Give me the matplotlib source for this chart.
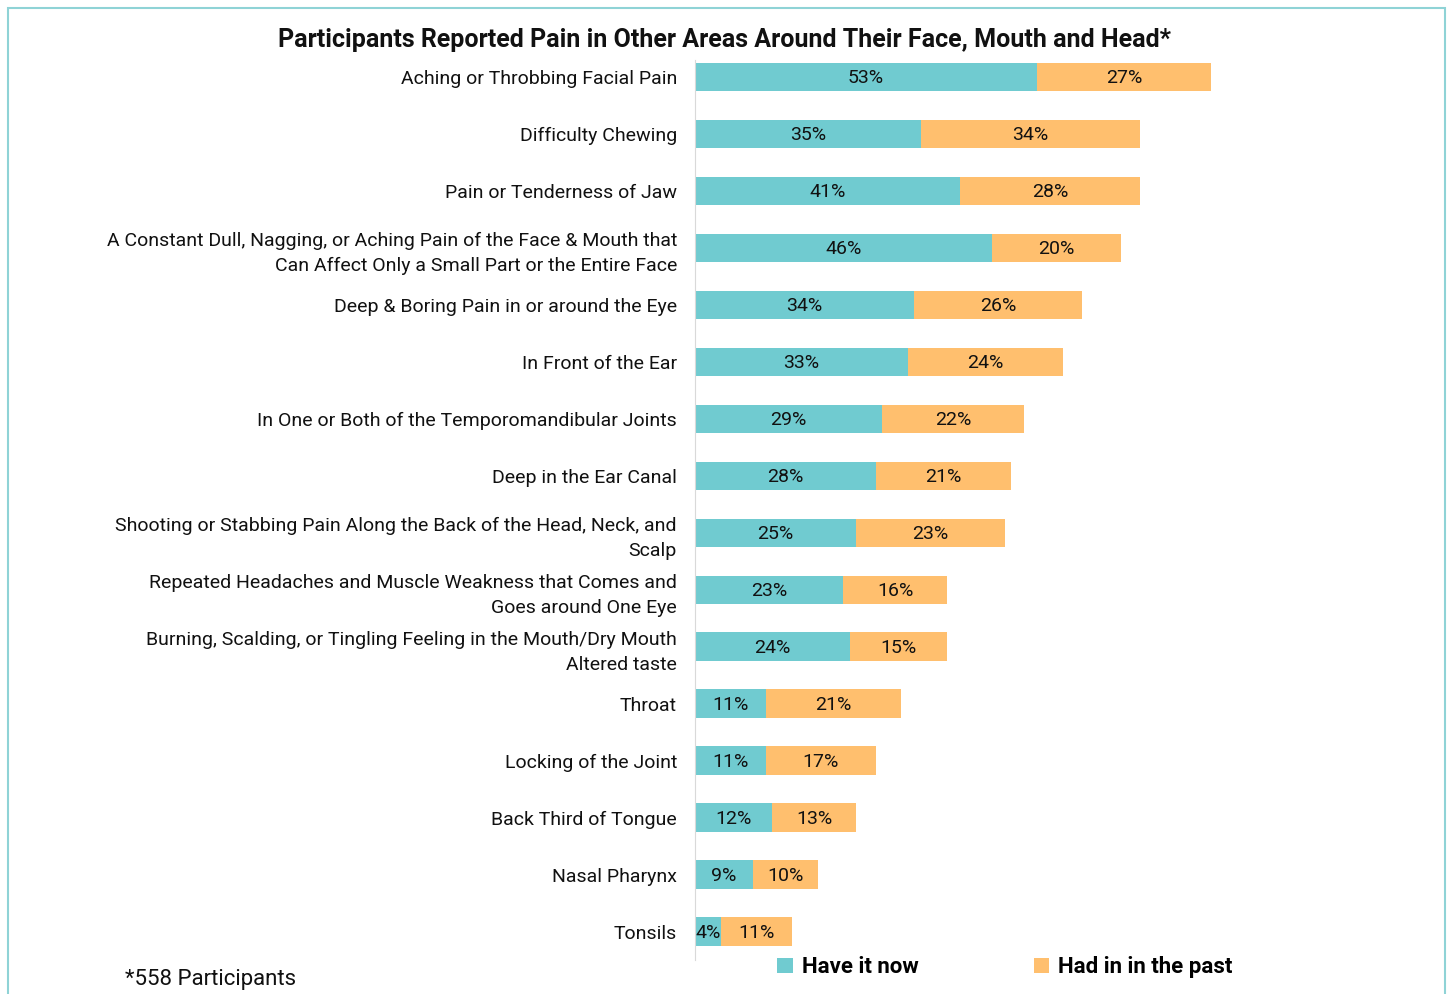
import matplotlib
matplotlib.use("Agg")
import matplotlib.pyplot as plt
from matplotlib.patches import Rectangle

plt.rcParams['font.family'] = ['Roboto', 'DejaVu Sans']

categories = [
    "Aching or Throbbing Facial Pain",
    "Difficulty Chewing",
    "Pain or Tenderness of Jaw",
    "A Constant Dull, Nagging, or Aching Pain of the Face & Mouth that\nCan Affect Only a Small Part or the Entire Face",
    "Deep & Boring Pain in or around the Eye",
    "In Front of the Ear",
    "In One or Both of the Temporomandibular Joints",
    "Deep in the Ear Canal",
    "Shooting or Stabbing Pain Along the Back of the Head, Neck, and\nScalp",
    "Repeated Headaches and Muscle Weakness that Comes and\nGoes around One Eye",
    "Burning, Scalding, or Tingling Feeling in the Mouth/Dry Mouth\nAltered taste",
    "Throat",
    "Locking of the Joint",
    "Back Third of Tongue",
    "Nasal Pharynx",
    "Tonsils",
]
have_now = [53, 35, 41, 46, 34, 33, 29, 28, 25, 23, 24, 11, 11, 12, 9, 4]
had_past = [27, 34, 28, 20, 26, 24, 22, 21, 23, 16, 15, 21, 17, 13, 10, 11]

teal = "#70CBD0"
orange = "#FFBF6E"

fig = plt.figure(figsize=(14.5, 9.94), dpi=100)
ax = fig.add_axes([0.4793, 0.0342, 0.445, 0.9054])

y = list(range(len(categories)))
ax.barh(y, have_now, height=0.5, color=teal, label="Have it now")
ax.barh(y, had_past, left=have_now, height=0.5, color=orange, label="Had in in the past")

for i in y:
    ax.text(have_now[i] / 2, i + 0.02, f"{have_now[i]}%", ha="center", va="center",
            fontsize=14, color="#111111")
    ax.text(have_now[i] + had_past[i] / 2, i + 0.02, f"{had_past[i]}%", ha="center",
            va="center", fontsize=14, color="#111111")

ax.set_yticks(y)
ax.set_yticklabels(categories, fontsize=14, color="#111111", linespacing=1.5)
ax.tick_params(axis="y", length=0, pad=13)
ax.set_ylim(15.5, -0.3)
ax.set_xlim(0, 100)
ax.set_xticks([])
for s in ["top", "right", "bottom"]:
    ax.spines[s].set_visible(False)
ax.spines["left"].set_color("#d9d9d9")

fig.text(0.5, 0.96, "Participants Reported Pain in Other Areas Around Their Face, Mouth and Head*",
         ha="center", va="center", fontsize=18, fontweight="bold", color="#111111")

leg = fig.legend(loc="center", bbox_to_anchor=(0.693, 0.027), ncol=2, frameon=False,
                 fontsize=16, handlelength=0.7, handleheight=0.7, columnspacing=5.2,
                 handletextpad=0.4)
for t in leg.get_texts():
    t.set_fontweight("bold")

fig.text(0.086, 0.015, "*558 Participants", ha="left", va="center", fontsize=16,
         color="#111111")

fig.patches.append(Rectangle((0.0055, -0.01), 0.991, 1.002, transform=fig.transFigure,
                             fill=False, edgecolor="#8fd3d6", linewidth=1.5))

fig.savefig("out.png", dpi=100)
